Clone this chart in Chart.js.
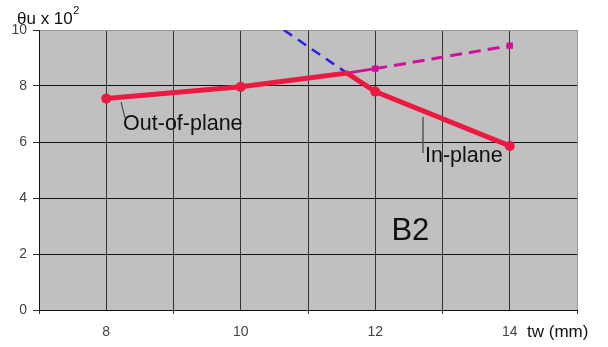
<!DOCTYPE html>
<html>
<head>
<meta charset="utf-8">
<script src="https://cdn.jsdelivr.net/npm/chart.js@4"></script>
<style>
  html, body { margin: 0; padding: 0; background: #fff; }
  #wrap { width: 608px; height: 347px; position: relative; }
</style>
</head>
<body>
<div id="wrap"><canvas id="c"></canvas></div>
<script>
// Web thickness tw (mm) and rotation θu (×10²) for specimen B2
const outOfPlaneX = [8, 10, 11.58];
const outOfPlaneY = [7.55, 7.97, 8.46];
const inPlaneX = [11.58, 12, 14];
const inPlaneY = [8.46, 7.8, 5.86];
const outOfPlaneExtX = [11.58, 12, 14];
const outOfPlaneExtY = [8.46, 8.62, 9.44];
const inPlaneExtX = [10.64, 11.58];
const inPlaneExtY = [10.0, 8.46];
const xTickLabels = [8, 10, 12, 14];
const yTickLabels = [0, 2, 4, 6, 8, 10];

const pts = (xs, ys) => xs.map((x, i) => ({ x, y: ys[i] }));
const FONT = '"Liberation Sans", Arial, sans-serif';
const RED = '#ea1a40';
const MAGENTA = '#d0109a';

// red solid curve: out-of-plane branch followed by in-plane branch
const mainX = outOfPlaneX.concat(inPlaneX.slice(1));
const mainY = outOfPlaneY.concat(inPlaneY.slice(1));

const labelsPlugin = {
  id: 'labels',
  beforeDraw(chart) {
    const { ctx, chartArea: a } = chart;
    ctx.save();
    ctx.fillStyle = '#c0c0c0';
    ctx.fillRect(a.left, a.top, a.right - a.left, a.bottom - a.top);
    ctx.restore();
  },
  afterDraw(chart) {
    const { ctx, chartArea: a, scales: { x, y } } = chart;
    ctx.save();
    ctx.fillStyle = '#111';
    ctx.textBaseline = 'alphabetic';
    ctx.textAlign = 'left';

    // axis titles
    ctx.font = '17px ' + FONT;
    ctx.fillText('θu x 10', a.left - 22, a.top - 6);
    const w = ctx.measureText('θu x 10').width;
    ctx.font = '11px ' + FONT;
    ctx.fillText('2', a.left - 22 + w + 0.5, a.top - 16);
    ctx.font = '17px ' + FONT;
    ctx.textBaseline = 'middle';
    ctx.fillText('tw (mm)', a.right - 50, a.bottom + 22);
    ctx.textBaseline = 'alphabetic';

    // curve labels with leader lines
    ctx.strokeStyle = '#333';
    ctx.lineWidth = 1;
    ctx.beginPath();
    ctx.moveTo(x.getPixelForValue(8.22), y.getPixelForValue(7.43));
    ctx.lineTo(x.getPixelForValue(8.28), y.getPixelForValue(6.85));
    ctx.stroke();
    ctx.strokeStyle = '#555';
    ctx.lineWidth = 1.5;
    ctx.beginPath();
    ctx.moveTo(x.getPixelForValue(12.71), y.getPixelForValue(6.89));
    ctx.lineTo(x.getPixelForValue(12.71), y.getPixelForValue(5.61));
    ctx.stroke();

    ctx.font = '21.5px ' + FONT;
    ctx.fillText('Out-of-plane', x.getPixelForValue(8.25), y.getPixelForValue(6.43));
    ctx.fillText('In-plane', x.getPixelForValue(12.74), y.getPixelForValue(5.29));

    ctx.font = '31px ' + FONT;
    ctx.fillText('B2', x.getPixelForValue(12.24), y.getPixelForValue(2.5));
    ctx.restore();
  }
};

new Chart(document.getElementById('c'), {
  type: 'scatter',
  data: {
    datasets: [
      {
        data: pts(mainX, mainY),
        showLine: true,
        borderColor: RED,
        backgroundColor: RED,
        borderWidth: 5,
        pointRadius: mainX.map(v => (xTickLabels.includes(v) ? 5 : 0)),
        pointHoverRadius: 0,
        pointBorderWidth: 0,
        order: 1
      },
      {
        data: pts(outOfPlaneExtX, outOfPlaneExtY),
        showLine: true,
        borderColor: MAGENTA,
        backgroundColor: MAGENTA,
        borderWidth: 3,
        segment: { borderDash: c => (c.p0DataIndex === 0 ? [] : [12, 7]) },
        pointStyle: 'rect',
        pointRadius: outOfPlaneExtX.map(v => (xTickLabels.includes(v) ? 4.5 : 0)),
        pointBorderWidth: 0,
        order: 2
      },
      {
        data: pts(inPlaneExtX, inPlaneExtY),
        showLine: true,
        borderColor: '#2a20e0',
        borderWidth: 2.5,
        borderDash: [10, 7],
        pointRadius: 0,
        order: 3
      }
    ]
  },
  options: {
    responsive: true,
    maintainAspectRatio: false,
    animation: false,
    events: [],
    layout: { padding: { top: 30, right: 31, left: 0, bottom: 0 } },
    plugins: { legend: { display: false }, tooltip: { enabled: false } },
    scales: {
      x: {
        type: 'linear',
        min: 7,
        max: 15,
        afterFit: s => { s.height = 37; },
        afterBuildTicks: s => {
          const t = [];
          for (let v = 7; v <= 15; v++) t.push({ value: v });
          s.ticks = t;
        },
        ticks: {
          autoSkip: false,
          maxRotation: 0,
          padding: 10,
          color: '#444',
          font: { family: FONT, size: 14 },
          callback: v => (xTickLabels.includes(v) ? String(v) : '')
        },
        grid: {
          color: c => (c.tick && c.tick.value === 15 ? '#999' : '#333'),
          lineWidth: 1,
          tickLength: 4,
          tickColor: c => (c.tick && c.tick.value % 2 === 1 ? '#333' : 'rgba(0,0,0,0)')
        },
        border: { color: '#111', width: 1 }
      },
      y: {
        type: 'linear',
        min: 0,
        max: 10,
        afterFit: s => { s.width = 39; },
        afterBuildTicks: s => { s.ticks = yTickLabels.map(v => ({ value: v })); },
        ticks: {
          padding: 6,
          color: '#444',
          font: { family: FONT, size: 14 },
          callback: v => String(v)
        },
        grid: {
          color: c => (c.tick && c.tick.value === 10 ? '#999' : '#111'),
          lineWidth: 1,
          tickLength: 6,
          tickColor: '#333'
        },
        border: { color: '#111', width: 1 }
      }
    }
  },
  plugins: [labelsPlugin]
});
</script>
</body>
</html>
